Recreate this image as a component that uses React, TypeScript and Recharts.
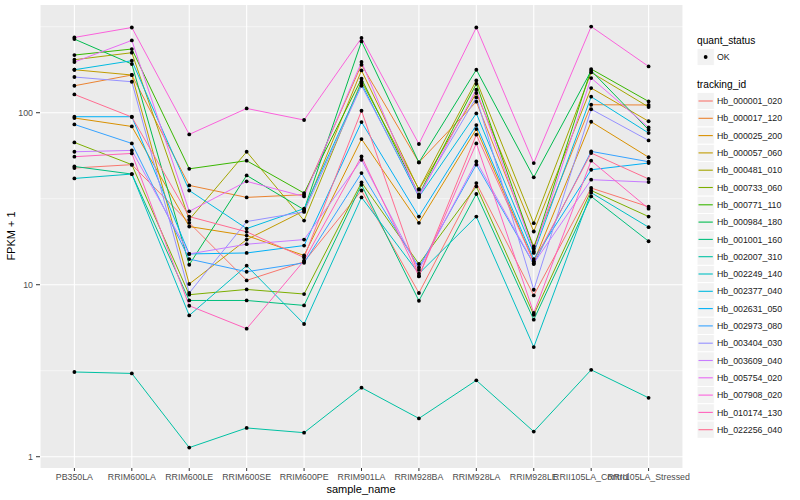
import React from "react";
import {
  LineChart,
  Line,
  XAxis,
  YAxis,
  CartesianGrid,
  ReferenceLine,
} from "recharts";

// sample names on the x axis
const categories = [
  "PB350LA",
  "RRIM600LA",
  "RRIM600LE",
  "RRIM600SE",
  "RRIM600PE",
  "RRIM901LA",
  "RRIM928BA",
  "RRIM928LA",
  "RRIM928LE",
  "RRII105LA_Control",
  "RRII105LA_Stressed",
];

// FPKM + 1 per transcript, one value per sample
const Hb_000001_020 = [47.7, 49.9, 22.9, 10.6, 13.6, 35.3, 8.95, 39.0, 8.67, 36.5, 28.4];
const Hb_000017_120 = [143.5, 165.7, 37.8, 32.2, 33.4, 190.1, 51.4, 115.9, 16.7, 111.3, 110.9];
const Hb_000025_200 = [93.2, 83.2, 21.8, 19.3, 14.8, 70.3, 22.9, 80.4, 13.6, 88.6, 55.1];
const Hb_000057_060 = [177.8, 165.7, 10.1, 18.3, 26.9, 176.2, 35.7, 130.2, 20.4, 139.2, 89.2];
const Hb_000481_010 = [203.3, 223.3, 23.9, 59.3, 23.6, 152.1, 36.0, 154.1, 22.8, 171.5, 108.0];
const Hb_000733_060 = [67.2, 49.9, 8.75, 9.39, 8.83, 39.3, 13.2, 37.3, 6.69, 35.3, 24.9];
const Hb_000771_110 = [216.5, 234.6, 47.2, 52.6, 34.1, 157.6, 33.4, 147.4, 16.2, 179.5, 116.3];
const Hb_000984_180 = [268, 191.9, 13.07, 43.2, 27.3, 259.8, 51.4, 177.8, 42.1, 175.5, 79.6];
const Hb_001001_160 = [48.7, 44.0, 8.1, 8.1, 7.58, 38.1, 8.07, 33.7, 6.26, 32.6, 17.9];
const Hb_002007_310 = [3.11, 3.05, 1.13, 1.47, 1.38, 2.52, 1.67, 2.78, 1.4, 3.2, 2.2];
const Hb_002249_140 = [41.5, 44.0, 6.63, 12.9, 5.91, 32.2, 11.6, 24.9, 4.34, 34.3, 21.6];
const Hb_002377_040 = [177.8, 200.6, 35.3, 21.2, 27.7, 147.4, 32.4, 99.1, 15.3, 123.9, 76.2];
const Hb_002631_050 = [94.8, 94.8, 15.1, 15.3, 16.9, 88.3, 24.9, 84.8, 14.1, 46.6, 51.0];
const Hb_002973_080 = [85.5, 66.3, 14.1, 11.9, 13.4, 44.6, 12.6, 49.9, 13.2, 59.6, 51.9];
const Hb_003404_030 = [161.3, 151.4, 8.95, 23.3, 26.5, 143.5, 33.4, 122.7, 9.35, 104.8, 69.0];
const Hb_003609_040 = [59.3, 60.4, 15.1, 17.2, 18.3, 53.3, 12.2, 52.1, 13.3, 40.8, 39.5];
const Hb_005754_020 = [197.2, 263.3, 26.7, 39.9, 32.6, 197.2, 32.4, 136.1, 15.6, 159.1, 82.1];
const Hb_007908_020 = [274, 313, 74.8, 105.9, 90.7, 272, 65.8, 313, 51.0, 317, 185.8];
const Hb_010174_130 = [55.5, 58.0, 7.55, 5.55, 13.8, 55.7, 11.2, 66.3, 6.85, 52.6, 27.7];
const Hb_022256_040 = [127.8, 94.4, 24.9, 20.3, 14.4, 102.7, 11.2, 74.5, 13.6, 58.3, 41.2];

const trackingIds = [
  "Hb_000001_020",
  "Hb_000017_120",
  "Hb_000025_200",
  "Hb_000057_060",
  "Hb_000481_010",
  "Hb_000733_060",
  "Hb_000771_110",
  "Hb_000984_180",
  "Hb_001001_160",
  "Hb_002007_310",
  "Hb_002249_140",
  "Hb_002377_040",
  "Hb_002631_050",
  "Hb_002973_080",
  "Hb_003404_030",
  "Hb_003609_040",
  "Hb_005754_020",
  "Hb_007908_020",
  "Hb_010174_130",
  "Hb_022256_040",
];

const seriesValues = [
  Hb_000001_020, Hb_000017_120, Hb_000025_200, Hb_000057_060, Hb_000481_010,
  Hb_000733_060, Hb_000771_110, Hb_000984_180, Hb_001001_160, Hb_002007_310,
  Hb_002249_140, Hb_002377_040, Hb_002631_050, Hb_002973_080, Hb_003404_030,
  Hb_003609_040, Hb_005754_020, Hb_007908_020, Hb_010174_130, Hb_022256_040,
];

// ggplot hue palette, 20 levels
const palette = [
  "#F8766D", "#EA8331", "#D89000", "#C09B00", "#A3A500",
  "#7CAE00", "#39B600", "#00BB4E", "#00BF7D", "#00C1A3",
  "#00BFC4", "#00BAE0", "#00B0F6", "#35A2FF", "#9590FF",
  "#C77CFF", "#E76BF3", "#FA62DB", "#FF62BC", "#FF6C91",
];

const yTicks = [1, 10, 100];
const minorBreaks = [3.1623, 31.623, 316.23];

const rows = categories.map((name, i) => {
  const row: Record<string, string | number> = { name };
  trackingIds.forEach((id, k) => {
    row[id] = seriesValues[k][i];
  });
  return row;
});

const FONT = "'Liberation Sans', Arial, Helvetica, sans-serif";

function LegendAndTitles() {
  const keyX = 697;
  const keySize = 17.3;
  const firstY = 101;
  return (
    <svg
      width={800}
      height={500}
      style={{ position: "absolute", left: 0, top: 0, pointerEvents: "none" }}
      fontFamily={FONT}
    >
      <text x={361} y={493} fontSize={11} textAnchor="middle" fill="#000">
        sample_name
      </text>
      <text
        x={15}
        y={236}
        fontSize={11}
        textAnchor="middle"
        fill="#000"
        transform="rotate(-90 15 236)"
      >
        FPKM + 1
      </text>

      <text x={keyX} y={44.3} fontSize={10.2} fill="#000">
        quant_status
      </text>
      <rect x={keyX} y={57 - keySize / 2} width={keySize} height={keySize} fill="#F2F2F2" stroke="#fff" />
      <circle cx={keyX + keySize / 2} cy={57} r={1.9} fill="#000" />
      <text x={717} y={60} fontSize={8.8} fill="#1a1a1a">
        OK
      </text>

      <text x={keyX} y={88} fontSize={10.2} fill="#000">
        tracking_id
      </text>
      {trackingIds.map((id, k) => {
        const cy = firstY + k * keySize;
        return (
          <g key={id}>
            <rect x={keyX} y={cy - keySize / 2} width={keySize} height={keySize} fill="#F2F2F2" stroke="#fff" />
            <line x1={keyX + 1.5} x2={keyX + keySize - 1.5} y1={cy} y2={cy} stroke={palette[k]} strokeWidth={1.1} />
            <text x={717} y={cy + 3.1} fontSize={8.8} fill="#1a1a1a">
              {id}
            </text>
          </g>
        );
      })}
    </svg>
  );
}

export default function App() {
  return (
    <div style={{ position: "absolute", left: 0, top: 0, width: 800, height: 500, fontFamily: FONT }}>
      <LineChart
        width={800}
        height={500}
        data={rows}
        margin={{ top: 5, right: 117, bottom: 0, left: 0 }}
      >
        <CartesianGrid fill="#EBEBEB" stroke="#FFFFFF" strokeWidth={1.1} horizontal={false} />
        {minorBreaks.map((v) => (
          <ReferenceLine key={"m" + v} y={v} stroke="#FFFFFF" strokeWidth={0.55} />
        ))}
        {yTicks.map((v) => (
          <ReferenceLine key={"M" + v} y={v} stroke="#FFFFFF" strokeWidth={1.1} />
        ))}
        <XAxis
          dataKey="name"
          type="category"
          scale="point"
          padding={{ left: 34.4, right: 34.4 }}
          height={32}
          interval={0}
          axisLine={false}
          tickSize={3}
          tickMargin={3}
          tickLine={{ stroke: "#333333" }}
          tick={{ fontSize: 8.8, fill: "#4D4D4D", fontFamily: FONT }}
        />
        <YAxis
          type="number"
          scale="log"
          domain={[0.86, 423]}
          allowDataOverflow
          ticks={yTicks}
          width={40}
          axisLine={false}
          tickSize={4}
          tickMargin={3}
          tickLine={{ stroke: "#333333" }}
          tick={{ fontSize: 8.8, fill: "#4D4D4D", fontFamily: FONT }}
          tickFormatter={(v) => String(v)}
        />
        {trackingIds.map((id, k) => (
          <Line
            key={id}
            type="linear"
            dataKey={id}
            stroke={palette[k]}
            strokeWidth={1}
            dot={{ r: 1.9, fill: "#000", stroke: "#000", strokeWidth: 0 }}
            activeDot={false}
            isAnimationActive={false}
          />
        ))}
      </LineChart>
      <LegendAndTitles />
    </div>
  );
}
